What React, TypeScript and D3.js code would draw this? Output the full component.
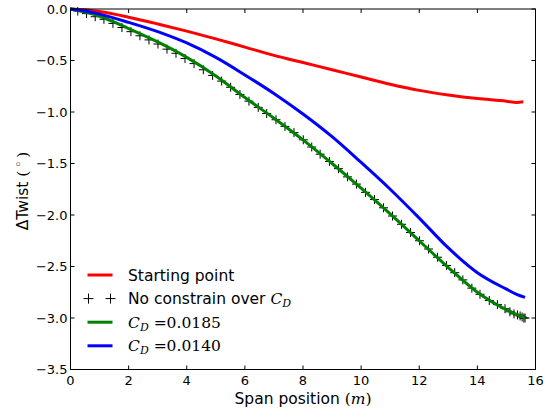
import React from "react";
import * as d3 from "d3";

const redX = [0, 0.5, 1, 2, 3, 4, 5, 6, 7, 8, 9, 10, 11, 12, 13, 14, 15, 15.35, 15.58];
const redY = [0, -0.008, -0.025, -0.08, -0.145, -0.215, -0.29, -0.37, -0.45, -0.52, -0.59, -0.66, -0.73, -0.79, -0.835, -0.87, -0.895, -0.907, -0.9];

const blueX = [0, 0.5, 1, 2, 3, 4, 5, 6, 7, 8, 9, 10, 11, 12, 13, 14, 15, 15.35, 15.64];
const blueY = [0, -0.02, -0.05, -0.13, -0.22, -0.33, -0.47, -0.64, -0.82, -1.02, -1.24, -1.49, -1.75, -2.03, -2.32, -2.56, -2.72, -2.77, -2.8];

const greenX = [0, 0.5, 1, 2, 3, 4, 5, 6, 7, 8, 9, 10, 11, 12, 13, 14, 15, 15.64];
const greenY = [0, -0.03, -0.07, -0.19, -0.32, -0.47, -0.65, -0.86, -1.06, -1.27, -1.5, -1.74, -1.99, -2.25, -2.51, -2.75, -2.92, -3.0];

const crossX = [0.0, 0.25, 0.55, 0.85, 1.15, 1.46, 1.77, 2.08, 2.39, 2.7, 3.01, 3.32, 3.63, 3.94, 4.25, 4.57, 4.89, 5.2, 5.51, 5.83, 6.14, 6.46, 6.75, 7.07, 7.38, 7.69, 8.01, 8.3, 8.59, 8.91, 9.22, 9.53, 9.84, 10.15, 10.46, 10.77, 11.08, 11.39, 11.7, 12.01, 12.32, 12.63, 12.94, 13.22, 13.5, 13.81, 14.09, 14.41, 14.69, 14.95, 15.12, 15.26, 15.38, 15.47, 15.54, 15.6, 15.64];
const crossY = [0.0, -0.02, -0.045, -0.075, -0.1, -0.14, -0.18, -0.22, -0.26, -0.3, -0.34, -0.39, -0.43, -0.48, -0.53, -0.59, -0.645, -0.70, -0.76, -0.83, -0.895, -0.955, -1.015, -1.075, -1.14, -1.2, -1.27, -1.34, -1.41, -1.48, -1.55, -1.63, -1.7, -1.78, -1.85, -1.93, -2.01, -2.09, -2.17, -2.25, -2.33, -2.41, -2.49, -2.56, -2.63, -2.71, -2.77, -2.83, -2.87, -2.91, -2.94, -2.96, -2.97, -2.98, -2.99, -3.0, -3.0];

const xTicks = [0, 2, 4, 6, 8, 10, 12, 14, 16];
const yTicks = [0, -0.5, -1.0, -1.5, -2.0, -2.5, -3.0, -3.5];

const W = 551;
const H = 412;
const L = 70.5, R = 535.5, T = 9, B = 369.5;
const SANS = "'DejaVu Sans', sans-serif";
const SERIF = "'DejaVu Serif', serif";

export default function App() {
  const x = d3.scaleLinear().domain([0, 16]).range([L, R]);
  const y = d3.scaleLinear().domain([-3.5, 0]).range([B, T]);
  const mk = (xs: number[], ys: number[]) =>
    d3.line<number>().x((_, i) => x(xs[i])).y((_, i) => y(ys[i])).curve(d3.curveMonotoneX)(xs) || "";
  const fmt = (v: number) => (v < 0 ? "\u2212" : "") + Math.abs(v).toFixed(1);
  const cross = (cx: number, cy: number, s: number, k: string) => (
    <g key={k} stroke="#000" strokeWidth={1}>
      <line x1={cx - s} x2={cx + s} y1={cy} y2={cy} />
      <line x1={cx} x2={cx} y1={cy - s} y2={cy + s} />
    </g>
  );
  const legY = [275, 298.6, 322.2, 345.8];
  const legX1 = 87.5, legX2 = 112.5, legT = 128;
  return (
    <div style={{ position: "fixed", left: 0, top: 0 }}>
      <svg width={W} height={H} style={{ display: "block", background: "#fff" }}>
        <defs>
          <clipPath id="clip">
            <rect x={L} y={T - 2} width={R - L} height={B - T + 4} />
          </clipPath>
        </defs>
        <g clipPath="url(#clip)">
          <path d={mk(redX, redY)} fill="none" stroke="#ff0000" strokeWidth={3} />
          {crossX.map((cx, i) => cross(x(cx), y(crossY[i]), 4.5, "c" + i))}
          <path d={mk(greenX, greenY)} fill="none" stroke="#008000" strokeWidth={3} />
          <path d={mk(blueX, blueY)} fill="none" stroke="#0000ff" strokeWidth={3} />
        </g>
        {xTicks.map((t) => (
          <g key={"xt" + t} stroke="#000" strokeWidth={1}>
            <line x1={x(t)} x2={x(t)} y1={B} y2={B - 4} />
            <line x1={x(t)} x2={x(t)} y1={T} y2={T + 4} />
          </g>
        ))}
        {yTicks.map((t) => (
          <g key={"yt" + t} stroke="#000" strokeWidth={1}>
            <line x1={L} x2={L + 4} y1={y(t)} y2={y(t)} />
            <line x1={R} x2={R - 4} y1={y(t)} y2={y(t)} />
          </g>
        ))}
        <rect x={L} y={T} width={R - L} height={B - T} fill="none" stroke="#000" strokeWidth={1} />
        {xTicks.map((t) => (
          <text key={"xl" + t} x={x(t)} y={B + 15} textAnchor="middle" fontFamily={SANS} fontSize={13}>
            {t}
          </text>
        ))}
        {yTicks.map((t) => (
          <text key={"yl" + t} x={L - 3} y={y(t) + 4.5} textAnchor="end" fontFamily={SANS} fontSize={13}>
            {fmt(t)}
          </text>
        ))}
        <text x={303} y={404} textAnchor="middle" fontFamily={SANS} fontSize={15.5}>
          Span position <tspan fontFamily={SERIF}>(</tspan>
          <tspan fontFamily={SERIF} fontStyle="italic">m</tspan>
          <tspan fontFamily={SERIF}>)</tspan>
        </text>
        <text
          transform={`translate(28,${191}) rotate(-90)`}
          textAnchor="middle"
          fontFamily={SANS}
          fontSize={15.5}
        >
          ΔTwist <tspan fontFamily={SERIF}>(</tspan>
          <tspan fontFamily={SANS} fontSize={13} dy={-5}>{"\u2009\u25E6\u2009"}</tspan>
          <tspan fontFamily={SERIF} dy={5}>)</tspan>
        </text>
        <line x1={legX1} x2={legX2} y1={legY[0]} y2={legY[0]} stroke="#ff0000" strokeWidth={3} />
        {cross(88.5, legY[1], 5, "l1")}
        {cross(110.5, legY[1], 5, "l2")}
        <line x1={legX1} x2={legX2} y1={legY[2]} y2={legY[2]} stroke="#008000" strokeWidth={3} />
        <line x1={legX1} x2={legX2} y1={legY[3]} y2={legY[3]} stroke="#0000ff" strokeWidth={3} />
        <text x={legT} y={legY[0] + 5.5} fontFamily={SANS} fontSize={15.5}>Starting point</text>
        <text x={legT} y={legY[1] + 5.5} fontFamily={SANS} fontSize={15.5}>
          No constrain over <tspan fontFamily={SERIF} fontStyle="italic">C</tspan>
          <tspan fontFamily={SERIF} fontStyle="italic" fontSize={11} dy={3}>D</tspan>
        </text>
        <text x={legT} y={legY[2] + 5.5} fontFamily={SERIF} fontSize={15.5}>
          <tspan fontStyle="italic">C</tspan>
          <tspan fontStyle="italic" fontSize={11} dy={3}>D</tspan>
          <tspan dy={-3}> =0.0185</tspan>
        </text>
        <text x={legT} y={legY[3] + 5.5} fontFamily={SERIF} fontSize={15.5}>
          <tspan fontStyle="italic">C</tspan>
          <tspan fontStyle="italic" fontSize={11} dy={3}>D</tspan>
          <tspan dy={-3}> =0.0140</tspan>
        </text>
      </svg>
    </div>
  );
}
